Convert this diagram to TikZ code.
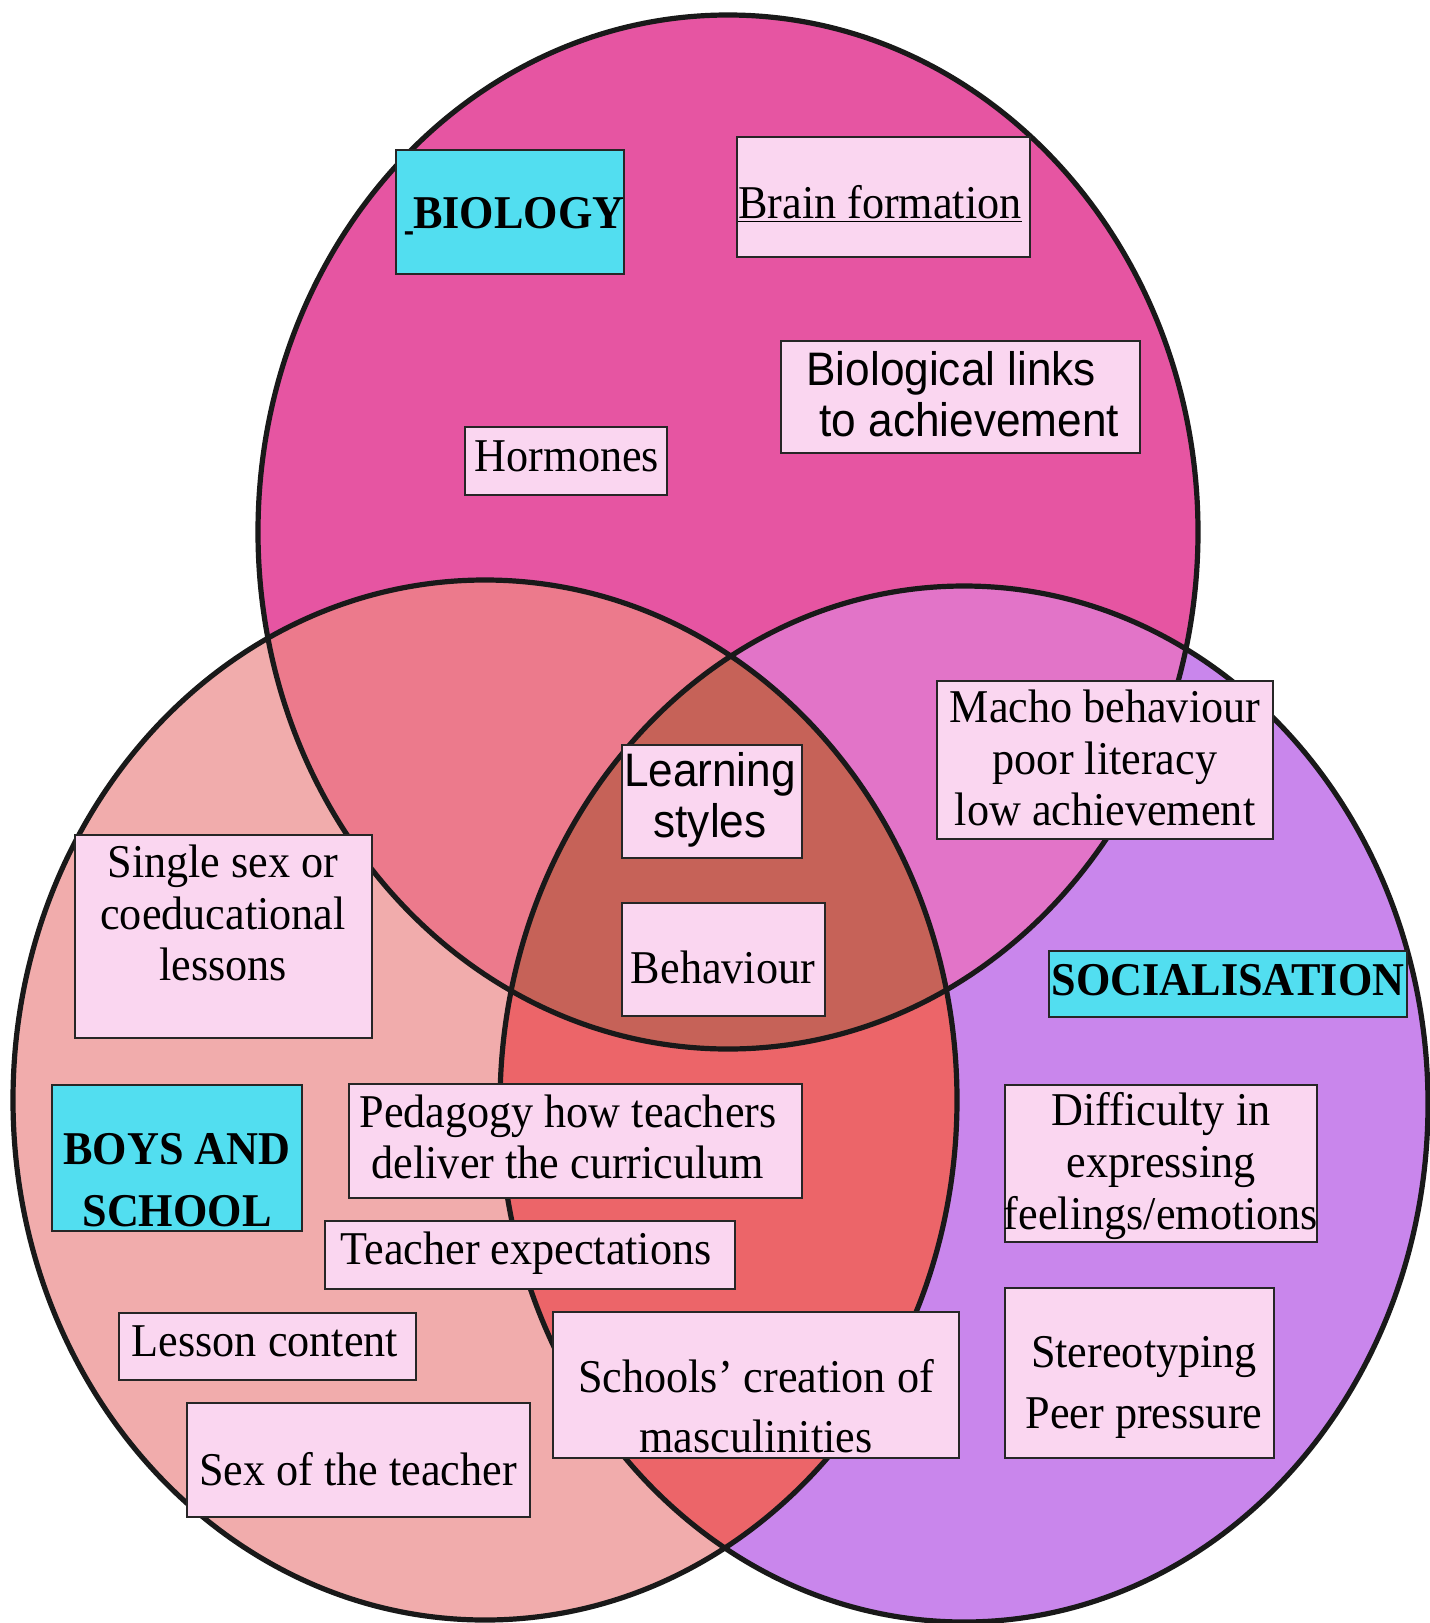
\documentclass[tikz,border=0pt]{standalone}
\usepackage{fontspec}
\setmainfont[FakeStretch=0.94]{Liberation Serif}
\newfontfamily\sansf[FakeStretch=0.94]{Liberation Sans}
\definecolor{cbio}{RGB}{230,85,162}
\definecolor{cboys}{RGB}{241,172,172}
\definecolor{csoc}{RGB}{201,134,236}
\definecolor{cbiob}{RGB}{236,122,140}
\definecolor{cbios}{RGB}{226,116,200}
\definecolor{cbs}{RGB}{236,101,105}
\definecolor{call}{RGB}{198,98,88}
\definecolor{boxfill}{RGB}{250,214,240}
\definecolor{cyanc}{RGB}{82,222,240}
\newcommand\fsn{\fontsize{23.5}{25.8}\selectfont}
\begin{document}
\begin{tikzpicture}[x=0.5pt,y=-0.5pt,
  box/.style={draw=black!85, line width=1pt, fill=boxfill, inner sep=0pt},
  titlebox/.style={box, fill=cyanc},
  txt/.style={align=center, inner sep=0pt, font=\fsn},
  ring/.style={draw=black!90, line width=2.6pt}]
\useasboundingbox[fill=white] (0,0) rectangle (1430,1623);
\def\bio{(728,532) ellipse [x radius=470, y radius=517]}
\def\boys{(485,1100) ellipse [x radius=472, y radius=520]}
\def\soc{(964,1104) ellipse [x radius=464, y radius=518]}
% base fills
\fill[cbio] \bio;
\fill[cboys] \boys;
\fill[csoc] \soc;
% pairwise overlaps
\begin{scope}\clip \bio; \fill[cbiob] \boys; \end{scope}
\begin{scope}\clip \bio; \fill[cbios] \soc; \end{scope}
\begin{scope}\clip \boys; \fill[cbs] \soc; \end{scope}
\begin{scope}\clip \bio; \clip \boys; \fill[call] \soc; \end{scope}
% outlines
\draw[ring] \bio;
\draw[ring] \boys;
\draw[ring] \soc;

% boxes
\node[titlebox, minimum width=114pt, minimum height=62pt] (biob) at (510,212) {};
\node[txt, font=\fsn\bfseries] (biot) at (515,216) {\scalebox{0.35}[1]{\_}BIOLOGY};

\node[box, minimum width=146.5pt, minimum height=60pt] (brainb) at (883.5,197) {};
\node[txt] (braint) at (880,204) {\underline{Brain formation}};

\node[box, minimum width=179.5pt, minimum height=56pt] (linksb) at (960.5,397) {};
\node[txt, align=left, anchor=west, font=\fsn\sansf] (linkst) at (806,394) {Biological links\\\hspace*{0.28em}to achievement};

\node[box, minimum width=101pt, minimum height=34pt] (hormb) at (566,461) {};
\node[txt] (hormt) at (567,456) {Hormones};

\node[box, minimum width=90pt, minimum height=56.5pt] (learnb) at (712,801.5) {};
\node[txt, font=\fsn\sansf] (learnt) at (710,800) {Learning\\styles};

\node[box, minimum width=168pt, minimum height=79pt] (machob) at (1105,760) {};
\node[txt] (machot) at (1105,758) {Macho behaviour\\poor literacy\\low achievement};

\node[box, minimum width=148.5pt, minimum height=101.5pt] (singleb) at (223,936.5) {};
\node[txt] (singlet) at (223,913) {Single sex or\\coeducational\\lessons};

\node[box, minimum width=101.5pt, minimum height=56.5pt] (behavb) at (723.5,959.5) {};
\node[txt] (behavt) at (723,967) {Behaviour};

\node[titlebox, minimum width=179pt, minimum height=33pt] (socb) at (1228,984) {};
\node[txt, font=\fsn\bfseries] (soct) at (1228,980) {SOCIALISATION};

\node[box, minimum width=156pt, minimum height=78.5pt] (diffb) at (1161,1163.5) {};
\node[txt] (difft) at (1161,1166) {Difficulty in\\expressing\\feelings/emotions};

\node[titlebox, minimum width=125pt, minimum height=73pt] (boysb) at (177,1158) {};
\node[txt, font=\fontsize{23.5}{31}\selectfont\bfseries] (boyst) at (177,1180) {BOYS AND\\SCHOOL};

\node[box, minimum width=226.5pt, minimum height=57pt] (pedb) at (575.5,1141) {};
\node[txt] (pedt) at (568,1137) {Pedagogy how teachers\\deliver the curriculum};

\node[box, minimum width=205pt, minimum height=34pt] (expb) at (530,1255) {};
\node[txt] (expt) at (526,1253) {Teacher expectations};

\node[box, minimum width=148.5pt, minimum height=33.5pt] (lessb) at (267.5,1346.5) {};
\node[txt] (lesst) at (265,1341) {Lesson content};

\node[box, minimum width=171.5pt, minimum height=57pt] (sexb) at (358.5,1460) {};
\node[txt] (sext) at (358,1469) {Sex of the teacher};

\node[box, minimum width=203pt, minimum height=73pt] (mascb) at (756,1385) {};
\node[txt, font=\fontsize{23.5}{30}\selectfont] (masct) at (756,1406) {Schools’ creation of\\masculinities};

\node[box, minimum width=134.5pt, minimum height=85pt] (sterb) at (1139.5,1373) {};
\node[txt, font=\fontsize{23.5}{30.5}\selectfont] (stert) at (1144,1387) {Stereotyping\\Peer pressure};
\end{tikzpicture}
\end{document}
